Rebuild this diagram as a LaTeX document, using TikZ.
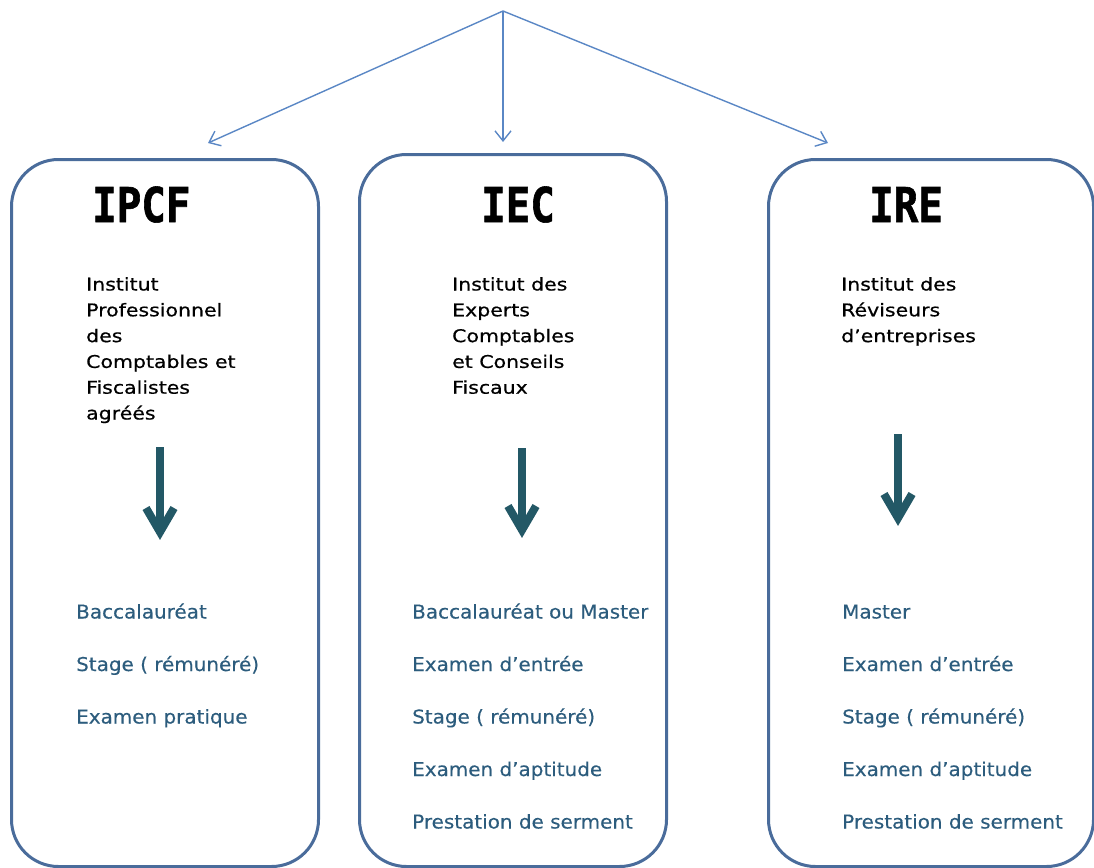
\documentclass[tikz,border=0pt]{standalone}
\usepackage{fontspec}
\usetikzlibrary{arrows.meta}
\newfontfamily\descfont[FakeStretch=1.17,FakeBold=0.6]{DejaVu Sans}
\newfontfamily\itemfont[FakeStretch=1.05,FakeBold=0.3]{DejaVu Sans}
\newfontfamily\titlefont[FakeStretch=0.85,FakeBold=1.2]{DejaVu Sans Mono Bold}
\definecolor{boxcol}{RGB}{74,108,155}
\definecolor{topcol}{RGB}{90,135,197}
\definecolor{arrcol}{RGB}{35,88,102}
\definecolor{itemcol}{RGB}{44,92,125}
\tikzset{
  instbox/.style={draw=boxcol, line width=3pt, rounded corners=47pt, inner sep=0pt, anchor=north west},
  toparrow/.style={draw=topcol, line width=1.4pt, -{Straight Barb[length=10pt,width=16pt]}},
  bigshaft/.style={draw=arrcol, line width=8pt},
  bighead/.style={draw=arrcol, line width=8pt, line join=miter},
  titletext/.style={font=\titlefont\fontsize{48}{50}\selectfont, text=black, inner sep=0pt, anchor=base west},
  desctext/.style={font=\descfont\fontsize{17.5}{25.8}\selectfont, text=black, inner sep=0pt, anchor=north west, align=left},
  itemtext/.style={font=\itemfont\fontsize{19}{22}\selectfont, text=itemcol, inner sep=0pt, anchor=base west}
}
\begin{document}
\begin{tikzpicture}[x=1pt,y=-1pt]
\useasboundingbox (0,0) rectangle (1094,867);
% boxes
\node[instbox, minimum width=307pt, minimum height=707pt] (b1) at (10,158) {};
\node[instbox, minimum width=307pt, minimum height=712pt] (b2) at (358,153) {};
\node[instbox, minimum width=325pt, minimum height=707pt] (b3) at (767,158) {};
% top arrows
\coordinate (apex) at (503,11);
\coordinate (t1) at (208,143);
\coordinate (t2) at (503,142);
\coordinate (t3) at (828,143);
\draw[toparrow] (apex) -- (t1);
\draw[toparrow] (apex) -- (t2);
\draw[toparrow] (apex) -- (t3);
% titles
\node[titletext] (n1) at (92,222) {IPCF};
\node[titletext] (n2) at (481,222) {IEC};
\node[titletext] (n3) at (869,222) {IRE};
% descriptions
\node[desctext] (d1) at (86,277) {\rule{0pt}{13pt}Institut\\Professionnel\\des\\Comptables et\\Fiscalistes\\agréés};
\node[desctext] (d2) at (452,277) {\rule{0pt}{13pt}Institut des\\Experts\\Comptables\\et Conseils\\Fiscaux};
\node[desctext] (d3) at (841,277) {\rule{0pt}{13pt}Institut des\\Réviseurs\\d’entreprises};
% big arrows
\foreach \i/\x/\top/\tip in {1/160/447/540, 2/522/448/538, 3/898/434/526} {
  \coordinate (s\i) at (\x,\top);
  \coordinate (v\i) at (\x,\tip-8);
  \coordinate (l\i) at (\x-14,\tip-32);
  \coordinate (r\i) at (\x+14,\tip-32);
  \draw[bigshaft] (s\i) -- (v\i);
  \draw[bighead] (l\i) -- (v\i) -- (r\i);
}
% items box 1
\node[itemtext] (a1) at (76,618.5) {Baccalauréat};
\node[itemtext] (a2) at (76,671) {Stage ( rémunéré)};
\node[itemtext] (a3) at (76,723.5) {Examen pratique};
% items box 2
\node[itemtext] (e1) at (412,618.5) {Baccalauréat ou Master};
\node[itemtext] (e2) at (412,671) {Examen d’entrée};
\node[itemtext] (e3) at (412,723.5) {Stage ( rémunéré)};
\node[itemtext] (e4) at (412,776) {Examen d’aptitude};
\node[itemtext] (e5) at (412,828.5) {Prestation de serment};
% items box 3
\node[itemtext] (r1) at (842,618.5) {Master};
\node[itemtext] (r2) at (842,671) {Examen d’entrée};
\node[itemtext] (r3) at (842,723.5) {Stage ( rémunéré)};
\node[itemtext] (r4) at (842,776) {Examen d’aptitude};
\node[itemtext] (r5) at (842,828.5) {Prestation de serment};
\end{tikzpicture}
\end{document}
